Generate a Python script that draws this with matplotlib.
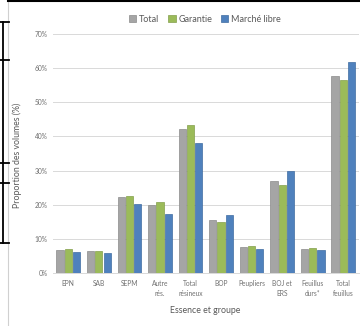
import matplotlib
matplotlib.use("Agg")
import matplotlib.pyplot as plt
from matplotlib.lines import Line2D
import numpy as np

plt.rcParams['font.family'] = ['Lato', 'DejaVu Sans']

categories = ["EPN", "SAB", "SEPM", "Autre\nrés.", "Total\nrésineux", "BOP",
              "Peupliers", "BOJ et\nERS", "Feuillus\ndurs*", "Total\nfeuillus"]
total = [6.7, 6.4, 22.1, 19.9, 42.3, 15.4, 7.6, 26.9, 7.0, 57.9]
garantie = [6.9, 6.5, 22.4, 20.8, 43.4, 14.8, 7.8, 25.8, 7.2, 56.7]
marche = [6.1, 5.7, 20.3, 17.3, 38.1, 17.0, 7.1, 30.0, 6.8, 62.0]
series_names = ["Total", "Garantie", "Marché libre"]
yticks = [0, 10, 20, 30, 40, 50, 60, 70]

W, H = 360, 326
fig = plt.figure(figsize=(W / 100, H / 100), dpi=100)
fig.patch.set_facecolor("white")

ax_l, ax_r, ax_b, ax_t = 53, 358.6, 272.7, 34.3
ax = fig.add_axes([ax_l / W, 1 - ax_b / H, (ax_r - ax_l) / W, (ax_b - ax_t) / H])
x = np.arange(len(categories))
bw = 0.235
step = 0.27
colors = ["#a5a5a5", "#9bbb59", "#4f81bd"]
edges = ["#8c8c8c", "#839f4b", "#3f6ca1"]
for i, (vals, c, e, name) in enumerate(zip([total, garantie, marche], colors, edges, series_names)):
    ax.bar(x + (i - 1) * step, vals, width=bw, color=c, edgecolor=e, linewidth=0.5,
           label=name, zorder=3)

ax.set_xlim(-0.5, len(categories) - 0.5)
ax.set_ylim(0, 70)
ax.set_yticks(yticks)
ax.set_yticklabels([f"{t}%" for t in yticks])
ax.set_xticks(x)
ax.set_xticklabels(categories, fontsize=4.8, color="#707070", linespacing=1.5)
ax.tick_params(axis="y", labelsize=4.8, colors="#707070", length=0, pad=4)
ax.tick_params(axis="x", length=0, pad=5)
ax.grid(axis="y", color="#d9d9d9", linewidth=0.7, zorder=0)
for s in ["top", "right", "left"]:
    ax.spines[s].set_visible(False)
ax.spines["bottom"].set_color("#d9d9d9")
ax.spines["bottom"].set_linewidth(0.7)

ax.set_xlabel("Essence et groupe", fontsize=6.3, color="#595959", labelpad=0)
ax.xaxis.set_label_coords((205 - ax_l) / (ax_r - ax_l), -(306 - ax_b) / (ax_b - ax_t))
ax.set_ylabel("Proportion des volumes (%)", fontsize=6.3, color="#595959")
ax.yaxis.set_label_coords(-(ax_l - 22) / (ax_r - ax_l), (ax_b - 155) / (ax_b - ax_t))

leg = fig.legend(loc="center", bbox_to_anchor=(205 / W, 1 - 19 / H), ncol=3, frameon=False,
                 fontsize=6.5, handlelength=0.8, handleheight=0.8, handletextpad=0.3,
                 columnspacing=1.0, labelcolor="#595959")

# frame artifacts
def pline(x0, y0, x1, y1, color, lw):
    fig.add_artist(Line2D([x0 / W, x1 / W], [1 - y0 / H, 1 - y1 / H], color=color,
                          linewidth=lw, transform=fig.transFigure))

pline(8, 0, 8, H, "#d0d0d0", 0.8)
pline(8, 1, W, 1, "black", 1.5)
pline(2.5, 22, 2.5, 243, "black", 1.3)
for yy in [22, 60, 163, 183, 243]:
    pline(0, yy, 9, yy, "black", 1.3)

fig.savefig("out.png", dpi=100)
